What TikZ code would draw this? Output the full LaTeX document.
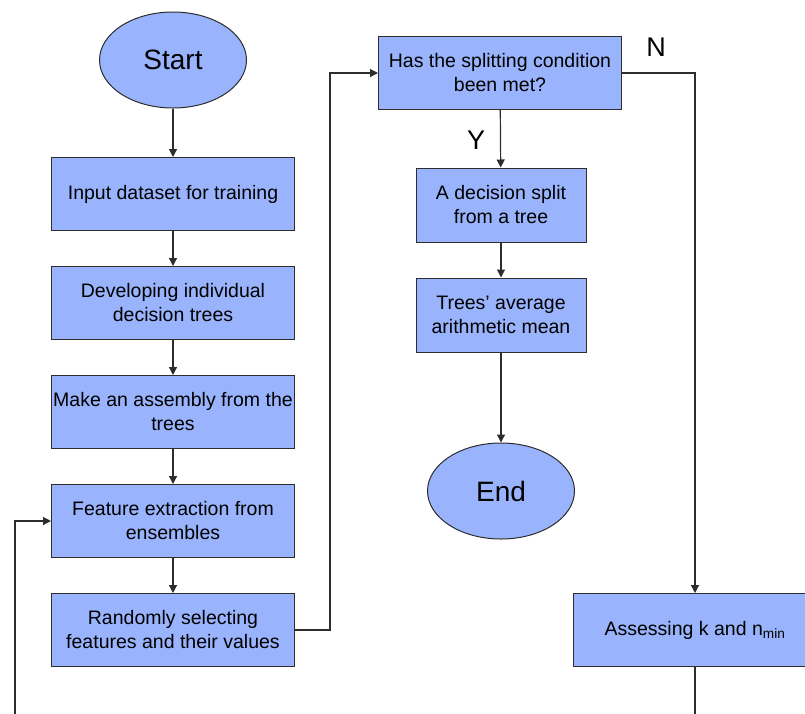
\documentclass[tikz,border=0pt]{standalone}
\usepackage{fontspec}
\setmainfont{Liberation Sans}
\usepackage{xcolor}
\usetikzlibrary{positioning, shapes, arrows.meta}
\definecolor{boxblue}{RGB}{153,180,252}
\definecolor{linegray}{RGB}{45,45,45}

\begin{document}
\begin{tikzpicture}[x=1pt, y=-1pt,
  proc box/.style={draw=linegray, fill=boxblue, line width=1pt, minimum width=243pt, minimum height=73pt, inner sep=1pt, align=center, font=\fontsize{19.5}{24}\selectfont},
  small box/.style={proc box, minimum width=170pt, minimum height=74pt},
  term/.style={draw=linegray, fill=boxblue, line width=1pt, ellipse, minimum width=147pt, minimum height=96pt, inner sep=0pt, font=\fontsize{28}{32}\selectfont},
  flow/.style={draw=linegray, line width=1.2pt, -{Triangle[length=8pt,width=8pt]}},
  line/.style={draw=linegray, line width=1.2pt},
  answer/.style={font=\fontsize{27}{30}\selectfont}]

\clip (0,0) rectangle (805,713);

\node [term](start) at (173,60) {Start};

\node [proc box](input) at (173,194) {Input dataset for training};
\node [proc box,below=35pt of input](develop) {Developing individual\\ decision trees};
\node [proc box,below=35pt of develop](assembly) {Make an assembly from the\\ trees};
\node [proc box,below=35pt of assembly](extract) {Feature extraction from\\ ensembles};
\node [proc box,below=35pt of extract](select) {Randomly selecting\\ features and their values};

\node [proc box](cond) at (500,73) {Has the splitting condition\\ been met?};
\node [small box](split) at (501,205) {A decision split\\ from a tree};
\node [small box,below=35pt of split](mean) {Trees' average\\ arithmetic mean};
\node [term](end) at (501,491) {End};

\node [proc box, minimum width=244pt](assess) at (695,630) {Assessing k and n\textsubscript{min}};

\node [answer](yes) at (476,140) {Y};
\node [answer](no) at (656,47) {N};

% free ends below the picture
\coordinate (loop bottom) at (15,760);
\coordinate (assess bottom) at (695,760);

\path [flow] (start)--(input);
\path [flow] (input)--(develop);
\path [flow] (develop)--(assembly);
\path [flow] (assembly)--(extract);
\path [flow] (extract)--(select);
\path [flow] (select.east)-|(330,73)--(cond.west);
\path [flow] (cond)--(split);
\path [flow] (split)--(mean);
\path [flow] (mean)--(end);
\path [flow] (cond.east)-|(assess.north);
\path [line] (assess)--(assess bottom);
\path [flow] (loop bottom)|-(extract.west);
\end{tikzpicture}
\end{document}
